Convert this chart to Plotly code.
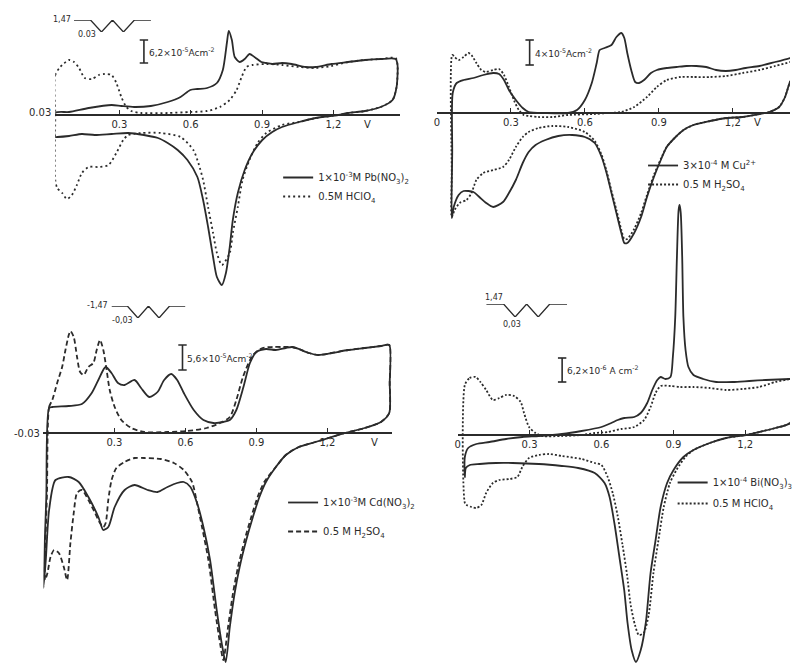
import plotly.graph_objects as go

W, H = 798, 664
INK = "#2b2b2b"
FONT = "DejaVu Sans"

# Cyclic voltammograms: (potential / V, current density in chart units).
# In every panel the vertical scale bar gives the size of the chart unit.

# ---- Panel A: 1e-3 M Pb(NO3)2 in 0.5 M HClO4 ----
pb_anodic = [(0.03, 2), (0.088, 3), (0.171, 7), (0.267, 10), (0.308, 9), (0.362, 8),
             (0.432, 9), (0.503, 13), (0.557, 18), (0.598, 25), (0.628, 26), (0.669, 27),
             (0.71, 32), (0.735, 45), (0.752, 72), (0.76, 84), (0.773, 75), (0.785, 58),
             (0.806, 53), (0.827, 56), (0.847, 61), (0.868, 58), (0.897, 53), (0.917, 52),
             (0.943, 51), (0.984, 52), (1.025, 51), (1.084, 48), (1.125, 48), (1.192, 51),
             (1.262, 53), (1.333, 55), (1.399, 56), (1.462, 56)]
pb_cathodic = [(1.47, 50), (1.466, 28), (1.449, 15), (1.399, 8), (1.333, 4), (1.262, 2),
               (1.221, 0), (1.125, -3), (1.055, -7), (0.984, -12), (0.943, -17), (0.901, -25),
               (0.86, -38), (0.827, -55), (0.798, -78), (0.777, -105), (0.764, -132),
               (0.748, -158), (0.731, -170), (0.71, -162), (0.694, -142), (0.673, -112),
               (0.652, -85), (0.628, -62), (0.586, -45), (0.545, -35), (0.503, -28),
               (0.462, -23), (0.403, -20), (0.337, -18), (0.267, -19), (0.196, -20),
               (0.142, -19), (0.088, -21), (0.038, -22), (0.03, -22)]
hclo4_a_anodic = [(0.03, 0), (0.03, 40), (0.051, 48), (0.088, 55), (0.109, 53), (0.13, 47),
                  (0.154, 37), (0.184, 36), (0.213, 40), (0.237, 41), (0.267, 40), (0.287, 32),
                  (0.308, 18), (0.329, 8), (0.35, 4), (0.391, 2), (0.503, 2), (0.598, 3),
                  (0.669, 4), (0.723, 8), (0.764, 15), (0.793, 25), (0.814, 38), (0.835, 48),
                  (0.86, 50), (0.918, 51), (0.984, 50), (1.055, 48), (1.125, 47), (1.192, 49),
                  (1.262, 53), (1.333, 55), (1.399, 56), (1.462, 57)]
hclo4_a_cathodic = [(1.47, 50), (1.466, 28), (1.449, 15), (1.399, 8), (1.333, 4), (1.262, 2),
                    (1.221, 0), (1.125, -3), (1.055, -7), (0.984, -10), (0.918, -18),
                    (0.881, -28), (0.847, -45), (0.818, -65), (0.798, -92), (0.777, -118),
                    (0.764, -138), (0.731, -150), (0.71, -138), (0.694, -118), (0.673, -92),
                    (0.652, -65), (0.632, -48), (0.611, -35), (0.557, -22), (0.474, -18),
                    (0.391, -18), (0.337, -20), (0.316, -25), (0.287, -38), (0.254, -50),
                    (0.213, -52), (0.171, -52), (0.142, -58), (0.121, -70), (0.1, -80),
                    (0.079, -84), (0.059, -78), (0.038, -73), (0.03, -65)]

# ---- Panel B: 3e-4 M Cu2+ in 0.5 M H2SO4 ----
cu_anodic = [(0.062, -40), (0.064, 20), (0.08, 30), (0.108, 33), (0.148, 35), (0.188, 38),
             (0.228, 40), (0.252, 39), (0.272, 33), (0.292, 23), (0.32, 13), (0.348, 5),
             (0.372, 1), (0.44, 0), (0.532, 0), (0.568, 3), (0.6, 13), (0.628, 30),
             (0.648, 50), (0.66, 63), (0.68, 65), (0.708, 68), (0.728, 76), (0.748, 80),
             (0.76, 75), (0.772, 60), (0.788, 43), (0.804, 31), (0.82, 30), (0.84, 33),
             (0.868, 40), (0.892, 43), (0.932, 45), (0.972, 46), (1.012, 47), (1.052, 47),
             (1.092, 46), (1.132, 43), (1.172, 42), (1.212, 43), (1.252, 45), (1.308, 47),
             (1.372, 51), (1.432, 55), (1.47, 58)]
cu_cathodic = [(1.47, 60), (1.455, 40), (1.432, 31), (1.412, 16), (1.388, 6), (1.348, 1),
               (1.308, -1), (1.24, -4), (1.172, -5), (1.108, -8), (1.04, -12), (1.0, -17),
               (0.968, -24), (0.932, -34), (0.908, -47), (0.88, -64), (0.852, -84),
               (0.828, -104), (0.8, -120), (0.772, -130), (0.76, -130), (0.748, -120),
               (0.728, -100), (0.708, -80), (0.688, -60), (0.668, -44), (0.64, -30),
               (0.6, -24), (0.548, -22), (0.492, -23), (0.44, -27), (0.4, -32), (0.372, -39),
               (0.348, -50), (0.32, -67), (0.292, -80), (0.268, -89), (0.228, -94),
               (0.2, -90), (0.172, -84), (0.148, -79), (0.108, -78), (0.088, -82),
               (0.068, -94), (0.06, -105)]
h2so4_b_anodic = [(0.06, -60), (0.062, 58), (0.072, 56), (0.088, 53), (0.108, 56), (0.128, 60),
                  (0.14, 58), (0.16, 50), (0.18, 43), (0.2, 41), (0.228, 43), (0.252, 44),
                  (0.272, 38), (0.292, 26), (0.312, 13), (0.332, 3), (0.352, -2), (0.372, -3),
                  (0.412, -4), (0.468, -4), (0.532, -2), (0.64, -1), (0.692, 0), (0.748, 1),
                  (0.8, 6), (0.852, 16), (0.892, 26), (0.932, 33), (0.988, 36), (1.04, 36),
                  (1.108, 36), (1.172, 37), (1.24, 40), (1.308, 43), (1.372, 47), (1.432, 51),
                  (1.47, 55)]
h2so4_b_cathodic = [(1.47, 57), (1.455, 40), (1.432, 31), (1.412, 16), (1.388, 6), (1.348, 1),
                    (1.308, -1), (1.24, -4), (1.172, -5), (1.108, -8), (1.04, -12), (1.0, -17),
                    (0.968, -24), (0.932, -34), (0.908, -46), (0.88, -62), (0.852, -82),
                    (0.828, -100), (0.8, -116), (0.772, -126), (0.76, -126), (0.748, -117),
                    (0.728, -97), (0.708, -78), (0.688, -58), (0.668, -42), (0.64, -28),
                    (0.6, -19), (0.532, -14), (0.468, -13), (0.412, -15), (0.372, -19),
                    (0.348, -24), (0.32, -34), (0.292, -47), (0.268, -54), (0.228, -57),
                    (0.188, -60), (0.16, -67), (0.14, -80), (0.12, -87), (0.092, -90),
                    (0.072, -97), (0.06, -104)]

# ---- Panel C: 1e-3 M Cd(NO3)2 in 0.5 M H2SO4 ----
cd_anodic = [(0.012, -65), (0.024, 25), (0.0375, 26), (0.107, 27), (0.1625, 29), (0.204, 40),
             (0.232, 53), (0.2625, 66), (0.2875, 60), (0.315, 50), (0.343, 48), (0.385, 53),
             (0.4125, 45), (0.447, 36), (0.482, 41), (0.51, 53), (0.54, 59), (0.565, 53),
             (0.593, 40), (0.635, 23), (0.676, 13), (0.718, 10), (0.76, 11), (0.7875, 13),
             (0.815, 23), (0.845, 46), (0.8725, 70), (0.9, 81), (0.94, 84), (0.982, 83),
             (1.024, 85), (1.051, 86), (1.079, 84), (1.121, 80), (1.162, 78), (1.218, 80),
             (1.2875, 83), (1.357, 85), (1.426, 87), (1.461, 88)]
cd_cathodic = [(1.463, 50), (1.461, 20), (1.426, 11), (1.357, 5), (1.274, 0), (1.218, -4),
               (1.149, -9), (1.079, -14), (1.024, -22), (0.982, -34), (0.94, -49),
               (0.9125, -64), (0.885, -84), (0.857, -107), (0.829, -134), (0.808, -160),
               (0.7875, -194), (0.77, -229), (0.753, -210), (0.732, -177), (0.704, -127),
               (0.676, -94), (0.649, -70), (0.621, -54), (0.593, -49), (0.565, -50),
               (0.524, -54), (0.482, -59), (0.44, -57), (0.385, -52), (0.343, -57),
               (0.301, -74), (0.274, -94), (0.253, -97), (0.232, -84), (0.19, -64),
               (0.149, -49), (0.107, -44), (0.051, -47), (0.024, -77), (0.01, -127),
               (0.0, -155)]
h2so4_c_anodic = [(0.015, -60), (0.024, 26), (0.0375, 33), (0.058, 50), (0.079, 66), (0.093, 83),
                  (0.107, 98), (0.114, 102), (0.128, 96), (0.142, 76), (0.155, 61), (0.17, 58),
                  (0.19, 66), (0.211, 70), (0.225, 83), (0.239, 93), (0.253, 83), (0.267, 63),
                  (0.28, 43), (0.301, 26), (0.329, 13), (0.371, 5), (0.426, 1), (0.524, 1),
                  (0.607, 2), (0.69, 5), (0.746, 10), (0.7875, 16), (0.815, 33), (0.843, 56),
                  (0.885, 78), (0.926, 85), (0.968, 86), (1.01, 86), (1.051, 86), (1.079, 84),
                  (1.121, 80), (1.162, 78), (1.218, 80), (1.2875, 83), (1.357, 85),
                  (1.426, 87), (1.461, 88)]
h2so4_c_cathodic = [(1.463, 50), (1.461, 20), (1.426, 11), (1.357, 5), (1.274, 0), (1.218, -4),
                    (1.149, -9), (1.079, -14), (1.024, -22), (0.982, -34), (0.933, -49),
                    (0.905, -64), (0.878, -84), (0.85, -107), (0.822, -134), (0.801, -160),
                    (0.78, -194), (0.76, -227), (0.746, -210), (0.725, -177), (0.697, -127),
                    (0.67, -94), (0.649, -70), (0.628, -49), (0.593, -37), (0.551, -30),
                    (0.496, -26), (0.426, -25), (0.385, -25), (0.343, -29), (0.308, -35),
                    (0.288, -47), (0.274, -67), (0.263, -90), (0.253, -94), (0.239, -90),
                    (0.218, -80), (0.19, -67), (0.163, -57), (0.142, -60), (0.128, -80),
                    (0.114, -110), (0.1, -147), (0.086, -134), (0.065, -120), (0.045, -117),
                    (0.03, -124), (0.017, -140), (0.007, -147)]

# ---- Panel D: 1e-4 M Bi(NO3)3 in 0.5 M HClO4 ----
bi_anodic = [(0.03, -22), (0.044, -13), (0.078, -9), (0.133, -7), (0.202, -4), (0.27, -2),
             (0.339, -1), (0.435, 1), (0.517, 4), (0.6, 8), (0.641, 12), (0.668, 15),
             (0.695, 17), (0.737, 18), (0.764, 22), (0.791, 32), (0.812, 45), (0.833, 55),
             (0.847, 58), (0.867, 56), (0.888, 58), (0.898, 78), (0.908, 118), (0.915, 178),
             (0.922, 225), (0.926, 230), (0.931, 222), (0.937, 178), (0.942, 118),
             (0.951, 85), (0.963, 68), (0.984, 60), (1.025, 56), (1.079, 53), (1.148, 53),
             (1.217, 54), (1.285, 55), (1.388, 56), (1.45, 57)]
bi_cathodic = [(1.45, 40), (1.387, 12), (1.326, 7), (1.258, 3), (1.203, 0), (1.12, -3),
               (1.052, -8), (0.984, -15), (0.942, -22), (0.901, -35), (0.874, -48),
               (0.847, -72), (0.826, -105), (0.805, -138), (0.785, -188), (0.764, -215),
               (0.744, -227), (0.726, -215), (0.709, -188), (0.695, -155), (0.675, -122),
               (0.654, -88), (0.634, -62), (0.613, -48), (0.572, -38), (0.503, -33),
               (0.435, -31), (0.339, -29), (0.229, -28), (0.16, -28), (0.092, -29),
               (0.051, -30), (0.034, -33), (0.03, -42)]
hclo4_d_anodic = [(0.03, 50), (0.05, 57), (0.075, 58), (0.095, 53), (0.119, 45), (0.147, 35),
                  (0.174, 37), (0.202, 40), (0.236, 39), (0.263, 33), (0.277, 22), (0.298, 8),
                  (0.325, 2), (0.353, -1), (0.435, -1), (0.517, 0), (0.572, 2), (0.627, 3),
                  (0.682, 6), (0.737, 8), (0.778, 15), (0.805, 28), (0.826, 42), (0.847, 49),
                  (0.888, 49), (0.929, 48), (0.984, 48), (1.052, 47), (1.12, 45), (1.189, 46),
                  (1.258, 48), (1.326, 53), (1.388, 56), (1.45, 57)]
hclo4_d_cathodic = [(1.45, 40), (1.387, 12), (1.326, 7), (1.258, 3), (1.203, 0), (1.12, -3),
                    (1.052, -8), (0.984, -15), (0.95, -22), (0.913, -35), (0.886, -48),
                    (0.86, -72), (0.838, -105), (0.817, -138), (0.797, -180), (0.776, -198),
                    (0.756, -200), (0.74, -190), (0.722, -170), (0.707, -140), (0.688, -110),
                    (0.667, -80), (0.647, -58), (0.626, -42), (0.6, -30), (0.572, -28),
                    (0.517, -24), (0.435, -21), (0.38, -19), (0.339, -20), (0.298, -23),
                    (0.27, -32), (0.249, -42), (0.215, -44), (0.174, -45), (0.147, -48),
                    (0.119, -58), (0.099, -70), (0.078, -73), (0.058, -72), (0.037, -70),
                    (0.03, -68)]

# Scale bars: (potential where drawn, lower end, upper end) in chart units
scale_bars = {
    "A": (0.403, 52, 75),
    "B": (0.376, 48, 73),
    "C": (0.5875, 63, 88),
    "D": (0.436, 53, 77),
}
scale_texts = {
    "A": "6,2×10<sup>-5</sup>Acm<sup>-2</sup>",
    "B": "4×10<sup>-5</sup>Acm<sup>-2</sup>",
    "C": "5,6×10<sup>-5</sup>Acm<sup>-2</sup>",
    "D": "6,2×10<sup>-6</sup> A cm<sup>-2</sup>",
}

# Potential programme shown in the small insets (time in arbitrary units, potential / V)
program_t = [0, 1.5, 2.5, 3.5, 4.5, 5.5, 7]
program_E = [1.47, 1.47, 0.03, 1.47, 0.03, 1.47, 1.47]

tick_vals = [0.3, 0.6, 0.9, 1.2]
tick_text = ["0.3", "0.6", "0.9", "1,2"]

legend_names = {
    "A": ["1×10<sup>-3</sup>M Pb(NO<sub>3</sub>)<sub>2</sub>", "0.5M HClO<sub>4</sub>"],
    "B": ["3×10<sup>-4</sup> M Cu<sup>2+</sup>", "0.5 M H<sub>2</sub>SO<sub>4</sub>"],
    "C": ["1×10<sup>-3</sup>M Cd(NO<sub>3</sub>)<sub>2</sub>", "0.5 M H<sub>2</sub>SO<sub>4</sub>"],
    "D": ["1×10<sup>-4</sup> Bi(NO<sub>3</sub>)<sub>3</sub>", "0.5 M HClO<sub>4</sub>"],
}

# Panel placement on the page (pixels): left/right edge of the potential axis,
# potential at the left edge, pixels per volt, and height of the zero-current line.
panels = {
    "A": dict(n=1, x0=53, x1=403, e0=0.03, scale=241, y0=115, legend="legend"),
    "B": dict(n=2, x0=440, x1=798, e0=0.0, scale=250, y0=113, legend="legend2"),
    "C": dict(n=3, x0=41, x1=394, e0=0.0, scale=240, y0=433, legend="legend3"),
    "D": dict(n=4, x0=461, x1=798, e0=0.0, scale=243, y0=435, legend="legend4"),
}

curves = {
    "A": [(pb_anodic, pb_cathodic, None), (hclo4_a_anodic, hclo4_a_cathodic, "2px,3px")],
    "B": [(cu_anodic, cu_cathodic, None), (h2so4_b_anodic, h2so4_b_cathodic, "2px,2px")],
    "C": [(cd_anodic, cd_cathodic, None), (h2so4_c_anodic, h2so4_c_cathodic, "5px,3px")],
    "D": [(bi_anodic, bi_cathodic, None), (hclo4_d_anodic, hclo4_d_cathodic, "2px,2px")],
}


def closed_cycle(anodic, cathodic):
    pts = list(anodic) + list(cathodic) + [anodic[0]]
    return [p[0] for p in pts], [p[1] for p in pts]


fig = go.Figure()
layout = dict(
    width=W, height=H, margin=dict(l=0, r=0, t=0, b=0),
    paper_bgcolor="white", plot_bgcolor="rgba(0,0,0,0)",
    font=dict(family=FONT, size=10, color=INK),
    annotations=[], showlegend=True,
)

tfont = dict(family=FONT, size=10, color=INK)

for key, p in panels.items():
    n = p["n"]
    xa, ya = f"x{n}", f"y{n}"
    e1 = p["e0"] + (p["x1"] - p["x0"]) / p["scale"]
    tv = tick_vals if key in ("A", "C") else [0.0] + tick_vals
    tt = tick_text if key in ("A", "C") else ["0"] + tick_text
    layout[f"xaxis{n}"] = dict(
        domain=[p["x0"] / W, p["x1"] / W], range=[p["e0"], e1],
        anchor="free", position=(H - p["y0"]) / H,
        showline=True, linecolor=INK, linewidth=1.6,
        ticks="inside", ticklen=4, tickwidth=1.3, tickcolor=INK,
        tickvals=tv, ticktext=tt, tickfont=tfont,
        showgrid=False, zeroline=False, fixedrange=True,
    )
    layout[f"yaxis{n}"] = dict(
        domain=[0, 1], range=[p["y0"] - H, p["y0"]], anchor=xa,
        visible=False, showgrid=False, zeroline=False, fixedrange=True,
    )

    names = legend_names[key]
    for (anodic, cathodic, dash), name in zip(curves[key], names):
        E, j = closed_cycle(anodic, cathodic)
        fig.add_trace(go.Scatter(
            x=E, y=j, xaxis=xa, yaxis=ya, mode="lines", name=name,
            legend=p["legend"], legendgroup=f"{key}-{name}",
            line=dict(color=INK, width=1.8, shape="spline", smoothing=0.7,
                      dash=dash if dash else "solid"),
            hoverinfo="skip",
        ))

    # scale bar
    eb, lo, hi = scale_bars[key]
    fig.add_trace(go.Scatter(
        x=[eb, eb], y=[lo, hi], xaxis=xa, yaxis=ya, mode="lines+markers",
        line=dict(color=INK, width=1.6),
        marker=dict(symbol="line-ew", size=6, line=dict(color=INK, width=1.6)),
        showlegend=False, hoverinfo="skip",
    ))
    layout["annotations"].append(dict(
        x=eb, y=(lo + hi) / 2, xref=xa, yref=ya, text=scale_texts[key],
        showarrow=False, xanchor="left", yanchor="middle", xshift=3,
        font=dict(family=FONT, size=9, color=INK),
    ))

# Potential-axis end labels
end_labels = [
    ("A", 0.03, 0, "0.03", "right", -2, 3),
    ("C", 0.0, 0, "-0.03", "right", -1, 0),
    ("A", 1.345, 0, "V", "center", 0, -9),
    ("B", 1.30, 0, "V", "center", 0, -9),
    ("C", 1.40, 0, "V", "center", 0, -9),
]
for key, e, j, txt, xanc, xs, ys in end_labels:
    n = panels[key]["n"]
    layout["annotations"].append(dict(
        x=e, y=j, xref=f"x{n}", yref=f"y{n}", text=txt, showarrow=False,
        xanchor=xanc, yanchor="middle", xshift=xs, yshift=ys, font=tfont,
    ))

# Potential-programme insets: pixel box (left, right, level 1.47, level 0.03)
insets = {
    "A": dict(n=5, box=(72, 150, 20, 32), top="1,47", bottom="0.03", style="left"),
    "C": dict(n=6, box=(110, 185, 306, 318), top="-1,47", bottom="-0,03", style="left"),
    "D": dict(n=7, box=(490, 572, 304, 317), top="1,47", bottom="0,03", style="above"),
}
for key, ins in insets.items():
    n = ins["n"]
    l, r, yt, yb = ins["box"]
    layout[f"xaxis{n}"] = dict(domain=[l / W, r / W], range=[0, 7], anchor=f"y{n}",
                               visible=False, fixedrange=True)
    layout[f"yaxis{n}"] = dict(domain=[(H - yb) / H, (H - yt) / H], range=[0.03, 1.47],
                               anchor=f"x{n}", visible=False, fixedrange=True)
    fig.add_trace(go.Scatter(
        x=program_t, y=program_E, xaxis=f"x{n}", yaxis=f"y{n}", mode="lines",
        line=dict(color=INK, width=1.3), showlegend=False, hoverinfo="skip",
        cliponaxis=False,
    ))
    sf = dict(family=FONT, size=8, color=INK)
    if ins["style"] == "left":
        layout["annotations"].append(dict(
            x=program_t[0], y=program_E[0], xref=f"x{n}", yref=f"y{n}", text=ins["top"],
            showarrow=False, xanchor="right", yanchor="middle", xshift=-1, yshift=1, font=sf))
        layout["annotations"].append(dict(
            x=program_t[2], y=program_E[2], xref=f"x{n}", yref=f"y{n}", text=ins["bottom"],
            showarrow=False, xanchor="right", yanchor="middle", xshift=-3, yshift=-2, font=sf))
    else:
        layout["annotations"].append(dict(
            x=program_t[0], y=program_E[0], xref=f"x{n}", yref=f"y{n}", text=ins["top"],
            showarrow=False, xanchor="left", yanchor="bottom", xshift=-3, yshift=0, font=sf))
        layout["annotations"].append(dict(
            x=program_t[2], y=program_E[2], xref=f"x{n}", yref=f"y{n}", text=ins["bottom"],
            showarrow=False, xanchor="center", yanchor="top", xshift=-3, yshift=-1, font=sf))

# Legends, one per panel (top-left corner in pixels)
legend_pos = {"legend": (279, 163, 0), "legend2": (649, 151, 0),
              "legend3": (284, 488, 10), "legend4": (679, 468, 2)}
for name, (lx, ly, gap) in legend_pos.items():
    layout[name] = dict(
        x=lx / W, y=(H - ly) / H, xanchor="left", yanchor="top",
        bgcolor="rgba(0,0,0,0)", borderwidth=0, itemwidth=30,
        traceorder="grouped", tracegroupgap=gap,
        font=dict(family=FONT, size=10, color=INK),
    )

fig.update_layout(**layout)
fig.write_html("out.html")
